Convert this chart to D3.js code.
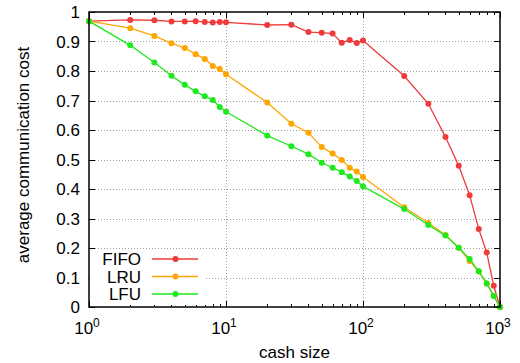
<!DOCTYPE html>
<html>
<head>
<meta charset="utf-8">
<script src="https://cdn.jsdelivr.net/npm/d3@7"></script>
<style>
  body { margin: 0; background: #fff; }
  svg { display: block; font-family: "Liberation Sans", Arial, sans-serif; }
</style>
</head>
<body>
<div id="chart"></div>
<script>
// cache sizes (x)
const sizes = [1, 2, 3, 4, 5, 6, 7, 8, 9, 10, 20, 30, 40, 50, 60, 70, 80, 90, 100,
  200, 300, 400, 500, 600, 700, 800, 900, 1000];

const fifo = [0.969, 0.973, 0.972, 0.968, 0.968, 0.969, 0.966, 0.964, 0.966, 0.965,
  0.956, 0.957, 0.932, 0.930, 0.927, 0.896, 0.905, 0.895, 0.903,
  0.783, 0.689, 0.576, 0.479, 0.379, 0.264, 0.185, 0.072, 0.0];

const lru = [0.969, 0.945, 0.919, 0.894, 0.878, 0.857, 0.841, 0.817, 0.807, 0.789,
  0.693, 0.621, 0.591, 0.542, 0.520, 0.498, 0.472, 0.459, 0.441,
  0.338, 0.285, 0.244, 0.201, 0.156, 0.120, 0.080, 0.038, 0.0];

const lfu = [0.969, 0.887, 0.829, 0.784, 0.753, 0.731, 0.714, 0.702, 0.678, 0.662,
  0.581, 0.545, 0.518, 0.489, 0.472, 0.457, 0.442, 0.427, 0.409,
  0.332, 0.278, 0.242, 0.201, 0.163, 0.121, 0.080, 0.037, 0.0];

const seriesNames = ['FIFO', 'LRU', 'LFU'];
const colors = ['#ef3b3b', '#ffa500', '#1ee81e'];
const yTicks = [0, 0.1, 0.2, 0.3, 0.4, 0.5, 0.6, 0.7, 0.8, 0.9, 1];
const xTicks = [1, 10, 100, 1000];

const W = 520, H = 363;
const margin = { top: 12, right: 20, bottom: 56, left: 89 };
const width = W - margin.left - margin.right;
const height = H - margin.top - margin.bottom;
const fs = 17;

const svg = d3.select('#chart').append('svg')
  .attr('width', W).attr('height', H);
const g = svg.append('g').attr('transform', `translate(${margin.left},${margin.top})`);

const x = d3.scaleLog().domain([1, 1000]).range([0, width]);
const y = d3.scaleLinear().domain([0, 1]).range([height, 0]);

// grid
const grid = g.append('g').attr('stroke', '#a0a0a0').attr('stroke-width', 1)
  .attr('stroke-dasharray', '1,2');
grid.selectAll('.gy').data(yTicks.slice(1, -1)).enter().append('line')
  .attr('x1', 0).attr('x2', width)
  .attr('y1', d => Math.round(y(d)) + 0.5).attr('y2', d => Math.round(y(d)) + 0.5);
grid.selectAll('.gx').data([10, 100]).enter().append('line')
  .attr('y1', 0).attr('y2', height)
  .attr('x1', d => Math.round(x(d)) + 0.5).attr('x2', d => Math.round(x(d)) + 0.5);

// ticks (inward, mirrored)
const minor = [];
for (let dec = 1; dec < 1000; dec *= 10) for (let k = 2; k <= 9; k++) minor.push(dec * k);
const ticks = g.append('g').attr('stroke', '#000').attr('stroke-width', 1);
yTicks.forEach(t => {
  const yy = Math.round(y(t)) + 0.5;
  ticks.append('line').attr('x1', 0).attr('x2', 6).attr('y1', yy).attr('y2', yy);
  ticks.append('line').attr('x1', width).attr('x2', width - 6).attr('y1', yy).attr('y2', yy);
});
xTicks.forEach(t => {
  const xx = Math.round(x(t)) + 0.5;
  ticks.append('line').attr('x1', xx).attr('x2', xx).attr('y1', height).attr('y2', height - 6);
  ticks.append('line').attr('x1', xx).attr('x2', xx).attr('y1', 0).attr('y2', 6);
});
minor.forEach(t => {
  const xx = Math.round(x(t)) + 0.5;
  ticks.append('line').attr('x1', xx).attr('x2', xx).attr('y1', height).attr('y2', height - 3);
  ticks.append('line').attr('x1', xx).attr('x2', xx).attr('y1', 0).attr('y2', 3);
});

// tick labels
g.append('g').selectAll('text').data(yTicks).enter().append('text')
  .attr('x', -9).attr('y', d => y(d) + 6)
  .attr('text-anchor', 'end').attr('font-size', fs)
  .text(d => d3.format('')(+d.toFixed(1)));

const xl = g.append('g').selectAll('text').data(xTicks).enter().append('text')
  .attr('x', d => x(d) - 2).attr('y', height + 27)
  .attr('text-anchor', 'middle').attr('font-size', fs);
xl.append('tspan').text('10');
xl.append('tspan').attr('dy', -7).attr('font-size', 12).text(d => Math.round(Math.log10(d)));

// axis labels
svg.append('text').attr('x', margin.left + width / 2).attr('y', 358)
  .attr('text-anchor', 'middle').attr('font-size', fs).text('cash size');
svg.append('text').attr('transform', `translate(29,155) rotate(-90)`)
  .attr('text-anchor', 'middle').attr('font-size', fs).text('average communication cost');

// series
const data = [fifo, lru, lfu].map((vals, i) => ({
  name: seriesNames[i], color: colors[i],
  pts: sizes.map((s, j) => ({ s, v: vals[j] }))
}));

const line = d3.line().x(d => x(d.s)).y(d => y(d.v));
const series = g.append('g').selectAll('g').data(data).enter().append('g');
series.append('path').attr('d', d => line(d.pts)).attr('fill', 'none')
  .attr('stroke', d => d.color).attr('stroke-width', 1.3);
series.each(function (d) {
  d3.select(this).selectAll('circle').data(d.pts).enter().append('circle')
    .attr('cx', p => x(p.s)).attr('cy', p => y(p.v)).attr('r', 3)
    .attr('fill', d.color);
});

// legend
const leg = g.append('g');
leg.append('rect').attr('x', 1).attr('y', 240).attr('width', 116).attr('height', 53).attr('fill', '#fff');
data.forEach((d, i) => {
  const yy = 247 + i * 17.5;
  leg.append('text').attr('x', 52).attr('y', yy + 6).attr('text-anchor', 'end')
    .attr('font-size', fs).text(d.name);
  leg.append('line').attr('x1', 63).attr('x2', 109).attr('y1', yy).attr('y2', yy)
    .attr('stroke', d.color).attr('stroke-width', 1.3);
  leg.append('circle').attr('cx', 86.5).attr('cy', yy).attr('r', 3).attr('fill', d.color);
});

// border
g.append('rect').attr('width', width).attr('height', height)
  .attr('fill', 'none').attr('stroke', '#000').attr('stroke-width', 1.5);
</script>
</body>
</html>
